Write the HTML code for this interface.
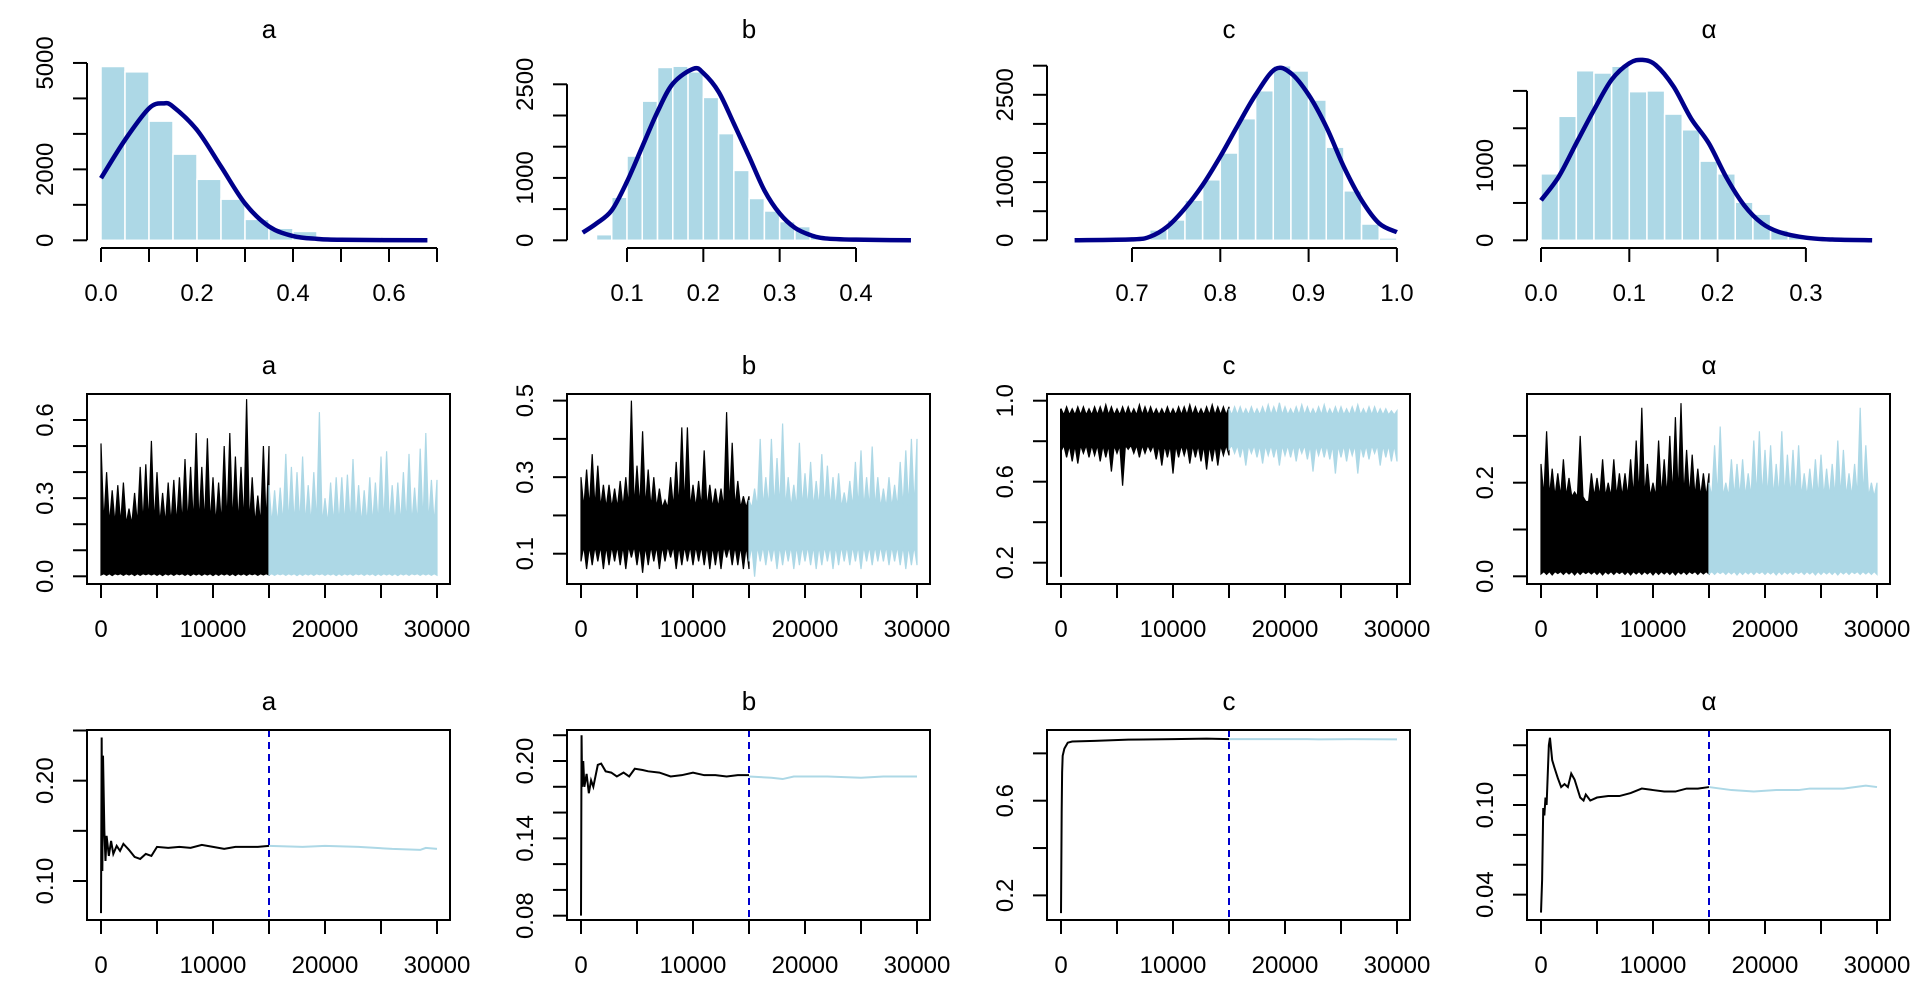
<!DOCTYPE html>
<html><head><meta charset="utf-8"><style>
html,body{margin:0;padding:0;background:#fff;}
svg{display:block;font-family:"Liberation Sans",sans-serif;}
</style></head><body>
<svg id="chart" width="1920" height="1008" viewBox="0 0 1920 1008" xmlns="http://www.w3.org/2000/svg"></svg>
<script>
// ---------- Histogram data ----------
const histA_counts=[4900,4750,3360,2430,1720,1160,590,340,250];
const histA_binStart=0, histA_binW=0.05;
const histB_counts=[90,690,1350,2230,2770,2790,2700,2290,1710,1120,670,470,300,220,80,50];
const histB_binStart=0.06, histB_binW=0.02;
const histC_counts=[60,180,350,690,1040,1500,2090,2570,3000,2910,2410,1600,850,280,40];
const histC_binStart=0.70, histC_binW=0.02;
const histAl_counts=[890,1660,2270,2240,2330,1990,2000,1690,1480,1060,890,510,350,140,60];
const histAl_binStart=0, histAl_binW=0.02;
// density curves
const densA_x=[0,0.05,0.1,0.13,0.15,0.2,0.25,0.3,0.35,0.4,0.45,0.5,0.68];
const densA_y=[1750,2830,3720,3860,3770,3110,2080,1040,390,120,40,15,0];
const densB_x=[0.042,0.06,0.08,0.10,0.12,0.14,0.16,0.187,0.2,0.22,0.24,0.26,0.28,0.30,0.32,0.34,0.36,0.40,0.472];
const densB_y=[123,270,480,940,1500,2060,2510,2750,2680,2380,1870,1340,800,430,200,85,30,10,0];
const densC_x=[0.635,0.70,0.72,0.74,0.76,0.78,0.80,0.82,0.84,0.862,0.88,0.90,0.92,0.94,0.96,0.98,1.0];
const densC_y=[0,15,60,235,550,950,1440,1980,2500,2940,2870,2500,1950,1260,690,290,140];
const densAl_x=[0,0.02,0.04,0.06,0.08,0.10,0.115,0.13,0.15,0.17,0.19,0.21,0.23,0.25,0.27,0.30,0.33,0.375];
const densAl_y=[535,850,1300,1745,2150,2370,2415,2345,2060,1630,1300,840,470,230,110,35,10,0];
// ---------- Trace data (envelope per 500 iterations) ----------
const traceA_hi1=[0.51,0.40,0.33,0.35,0.36,0.26,0.32,0.42,0.43,0.52,0.40,0.32,0.36,0.37,0.38,0.45,0.42,0.55,0.42,0.53,0.38,0.36,0.50,0.55,0.46,0.42,0.68,0.38,0.31,0.50];
const traceA_hi2=[0.35,0.33,0.34,0.47,0.42,0.40,0.46,0.35,0.40,0.63,0.30,0.36,0.38,0.38,0.39,0.45,0.35,0.33,0.38,0.36,0.46,0.48,0.35,0.36,0.40,0.47,0.34,0.49,0.55,0.37];
const traceA_lo1=[0.005,0.004,0.003,0.006,0.004,0.005,0.003,0.004,0.006,0.005,0.004,0.003,0.005,0.004,0.006,0.004,0.003,0.005,0.004,0.005,0.003,0.004,0.005,0.004,0.003,0.005,0.004,0.006,0.004,0.005];
const traceA_lo2=[0.005,0.004,0.006,0.004,0.005,0.003,0.004,0.005,0.004,0.006,0.004,0.005,0.003,0.004,0.005,0.004,0.006,0.004,0.005,0.003,0.004,0.005,0.004,0.003,0.005,0.004,0.006,0.004,0.005,0.004];
const traceB_hi1=[0.30,0.32,0.36,0.33,0.28,0.28,0.27,0.29,0.30,0.50,0.33,0.42,0.32,0.30,0.27,0.24,0.30,0.34,0.43,0.43,0.28,0.29,0.37,0.28,0.27,0.27,0.47,0.39,0.29,0.25];
const traceB_hi2=[0.24,0.27,0.40,0.30,0.40,0.35,0.44,0.30,0.28,0.39,0.31,0.34,0.29,0.36,0.33,0.30,0.31,0.26,0.29,0.34,0.37,0.30,0.38,0.30,0.27,0.30,0.28,0.34,0.37,0.40];
const traceB_lo1=[0.08,0.06,0.07,0.08,0.06,0.07,0.08,0.07,0.06,0.09,0.07,0.05,0.07,0.08,0.06,0.08,0.09,0.06,0.07,0.08,0.07,0.08,0.07,0.06,0.07,0.06,0.09,0.07,0.07,0.06];
const traceB_lo2=[0.08,0.04,0.08,0.07,0.08,0.06,0.07,0.08,0.06,0.07,0.08,0.07,0.06,0.07,0.08,0.06,0.07,0.08,0.07,0.08,0.06,0.08,0.07,0.08,0.08,0.07,0.08,0.07,0.06,0.07];
const traceC_hi1=[0.96,0.97,0.96,0.97,0.97,0.96,0.97,0.97,0.98,0.97,0.96,0.97,0.97,0.96,0.98,0.97,0.97,0.96,0.96,0.97,0.96,0.97,0.97,0.98,0.97,0.96,0.97,0.98,0.97,0.97];
const traceC_hi2=[0.96,0.97,0.97,0.96,0.97,0.96,0.97,0.98,0.97,0.99,0.97,0.96,0.97,0.98,0.97,0.96,0.97,0.98,0.96,0.97,0.97,0.96,0.97,0.98,0.96,0.97,0.97,0.96,0.96,0.95];
const traceC_lo1=[0.75,0.72,0.70,0.69,0.74,0.72,0.73,0.70,0.72,0.65,0.74,0.58,0.76,0.74,0.72,0.74,0.75,0.71,0.68,0.72,0.64,0.72,0.73,0.69,0.72,0.70,0.66,0.70,0.68,0.73];
const traceC_lo2=[0.76,0.74,0.72,0.68,0.74,0.72,0.69,0.73,0.72,0.68,0.73,0.72,0.70,0.74,0.71,0.65,0.73,0.72,0.71,0.64,0.72,0.70,0.73,0.64,0.72,0.71,0.74,0.68,0.72,0.70];
const traceC_start=0.13;
const traceAl_hi1=[0.24,0.31,0.23,0.22,0.25,0.21,0.18,0.30,0.16,0.22,0.21,0.25,0.20,0.25,0.22,0.22,0.25,0.29,0.36,0.24,0.20,0.29,0.25,0.30,0.34,0.37,0.27,0.26,0.23,0.22];
const traceAl_hi2=[0.20,0.28,0.32,0.20,0.25,0.24,0.25,0.22,0.29,0.31,0.27,0.28,0.24,0.31,0.26,0.27,0.28,0.22,0.23,0.25,0.26,0.23,0.24,0.29,0.27,0.22,0.24,0.36,0.28,0.20];
const traceAl_lo1=traceA_lo1;
const traceAl_lo2=traceA_lo2;
// ---------- Running mean data ----------
const runA_it1=[0,60,120,180,300,400,500,700,900,1100,1400,1700,2000,2500,3000,3500,4000,4500,5000,6000,7000,8000,9000,10000,11000,12000,13000,14000,15000];
const runA_v1=[0.068,0.243,0.11,0.225,0.15,0.12,0.145,0.125,0.14,0.127,0.135,0.130,0.137,0.131,0.124,0.122,0.127,0.125,0.134,0.133,0.134,0.133,0.136,0.134,0.132,0.134,0.134,0.134,0.135];
const runA_it2=[15000,18000,20000,23000,26000,28500,29000,30000];
const runA_v2=[0.135,0.134,0.135,0.134,0.132,0.131,0.133,0.132];
const runB_it1=[0,50,100,200,300,500,700,900,1100,1500,1800,2200,2700,3200,3800,4300,4800,5500,6000,7000,8000,9000,10000,11000,12000,13000,14000,15000];
const runB_v1=[0.08,0.22,0.18,0.20,0.18,0.19,0.175,0.185,0.18,0.197,0.198,0.192,0.191,0.188,0.191,0.188,0.194,0.193,0.192,0.191,0.188,0.189,0.191,0.189,0.189,0.188,0.189,0.189];
const runB_it2=[15000,17000,18000,19000,22000,25000,27000,30000];
const runB_v2=[0.188,0.187,0.186,0.188,0.188,0.187,0.188,0.188];
const runC_it1=[0,60,100,150,300,600,1000,3000,6000,10000,13000,15000];
const runC_v1=[0.125,0.55,0.72,0.79,0.82,0.845,0.85,0.853,0.858,0.86,0.862,0.86];
const runC_it2=[15000,22000,23000,26000,30000];
const runC_v2=[0.86,0.86,0.859,0.86,0.859];
const runAl_it1=[0,100,200,300,400,500,700,800,1000,1200,1500,1800,2100,2400,2700,3000,3500,3800,4000,4400,5000,6000,7000,8000,9000,10000,11000,12000,13000,14000,15000];
const runAl_v1=[0.028,0.05,0.098,0.093,0.105,0.10,0.14,0.145,0.13,0.125,0.118,0.112,0.114,0.112,0.121,0.117,0.105,0.103,0.107,0.103,0.105,0.106,0.106,0.108,0.111,0.11,0.109,0.109,0.111,0.111,0.112];
const runAl_it2=[15000,17000,19000,21000,23000,24000,27000,29000,30000];
const runAl_v2=[0.112,0.11,0.109,0.11,0.11,0.111,0.111,0.113,0.112];
// ticks
const titles=["a","b","c","α"];
const iterTicks=[0,5000,10000,15000,20000,25000,30000];
const iterLabels=["0","","10000","","20000","","30000"];

const NS="http://www.w3.org/2000/svg";
const svg=document.getElementById('chart');
function el(tag,attrs,parent){const e=document.createElementNS(NS,tag);for(const k in attrs)e.setAttribute(k,attrs[k]);(parent||svg).appendChild(e);return e;}
function txt(s,x,y,opts,parent){const t=el('text',Object.assign({x:x,y:y,'font-size':24,'text-anchor':'middle',fill:'#000'},opts||{}),parent);t.textContent=s;return t;}

function panelGroup(name,ox,oy){const g=el('g',{transform:`translate(${ox},${oy})`});return g;}
function title(g,s){const t=txt(s,269,38,{'font-size':26},g);}
function yAxis(g,ticks,labels,ymap,drawLine){
  const ax=el('g',{},g);
  if(drawLine) el('line',{x1:87,x2:87,y1:ymap(ticks[0]),y2:ymap(ticks[ticks.length-1]),stroke:'#000','stroke-width':2},ax);
  ticks.forEach((t,i)=>{const y=ymap(t);el('line',{x1:73,x2:87,y1:y,y2:y,stroke:'#000','stroke-width':2},ax);
    if(labels[i]){const l=txt(labels[i],0,0,{transform:`translate(53,${y}) rotate(-90)`},ax);}});
}
function xAxis(g,ticks,labels,xmap,drawLine){
  const ax=el('g',{},g);
  if(drawLine) el('line',{x1:xmap(ticks[0]),x2:xmap(ticks[ticks.length-1]),y1:248,y2:248,stroke:'#000','stroke-width':2},ax);
  ticks.forEach((t,i)=>{const x=xmap(t);el('line',{x1:x,x2:x,y1:248,y2:262,stroke:'#000','stroke-width':2},ax);
    if(labels[i]){const l=txt(labels[i],x,301,{},ax);}});
}
function box(g){const b=el('rect',{x:87,y:58,width:363,height:190,fill:'none',stroke:'#000','stroke-width':2},g);}
function smoothPath(pts){
  let d='M'+pts[0][0]+','+pts[0][1];
  for(let i=0;i<pts.length-1;i++){
    const p0=pts[Math.max(0,i-1)],p1=pts[i],p2=pts[i+1],p3=pts[Math.min(pts.length-1,i+2)];
    const c1=[p1[0]+(p2[0]-p0[0])/6,p1[1]+(p2[1]-p0[1])/6],c2=[p2[0]-(p3[0]-p1[0])/6,p2[1]-(p3[1]-p1[1])/6];
    d+=` C${c1[0]},${c1[1]} ${c2[0]},${c2[1]} ${p2[0]},${p2[1]}`;
  }
  return d;
}
function hist(k,name,counts,b0,bw,dx,dy,xmap,ymap,xt,xl,yt,yl){
  const g=panelGroup('histogram-'+name,480*k,0);title(g,titles[k]);
  counts.forEach((c,i)=>{const x0=xmap(b0+i*bw),x1=xmap(b0+(i+1)*bw);
    const r=el('rect',{x:x0,y:ymap(c),width:x1-x0,height:ymap(0)-ymap(c),fill:'#ADD8E6',stroke:'#fff','stroke-width':1.5},g);
    });
  const p=el('path',{d:smoothPath(dx.map((x,i)=>[xmap(x),ymap(dy[i])])),fill:'none',stroke:'#00008B','stroke-width':4.5,'stroke-linejoin':'round'},g);
  
  yAxis(g,yt,yl,ymap,true);xAxis(g,xt,xl,xmap,true);
}
const itX=it=>101+it/30000*336;
function tracePanel(k,name,hi1,hi2,lo1,lo2,topB,lowB,ymap,yt,yl,start){
  const g=panelGroup('trace-'+name,480*k,336);title(g,titles[k]);
  [[hi1,lo1,'#000',0],[hi2,lo2,'#ADD8E6',15000]].forEach(([hi,lo,col,off])=>{
    const top=[],bot=[];
    hi.forEach((h,i)=>{const it=off+i*500;top.push(itX(it)+','+ymap(h));top.push(itX(it+250)+','+ymap(Math.min(topB,h)));});
    top.push(itX(off+15000)+','+ymap(hi[hi.length-1]));
    bot.push(itX(off+15000)+','+ymap(lo[lo.length-1]));
    for(let i=lo.length-1;i>=0;i--){const it=off+i*500;bot.push(itX(it+250)+','+ymap(Math.max(lowB,lo[i])));bot.push(itX(it)+','+ymap(lo[i]));}
    const p=el('polygon',{points:top.concat(bot).join(' '),fill:col,stroke:col,'stroke-width':1.2,'stroke-linejoin':'miter'},g);
    
  });
  if(start!==undefined){const l=el('line',{x1:itX(0),x2:itX(0),y1:ymap(start),y2:ymap(hi1[0]),stroke:'#000','stroke-width':2},g);}
  box(g);yAxis(g,yt,yl,ymap,false);xAxis(g,iterTicks,iterLabels,itX,false);
}
function runPanel(k,name,it1,v1,it2,v2,ymap,yt,yl){
  const g=panelGroup('running-mean-'+name,480*k,672);title(g,titles[k]);
  const p1=el('polyline',{points:it1.map((t,i)=>itX(t)+','+ymap(v1[i])).join(' '),fill:'none',stroke:'#000','stroke-width':2},g);
  
  const p2=el('polyline',{points:it2.map((t,i)=>itX(t)+','+ymap(v2[i])).join(' '),fill:'none',stroke:'#ADD8E6','stroke-width':2},g);
  
  const d=el('line',{x1:itX(15000),x2:itX(15000),y1:58,y2:248,stroke:'#0000CD','stroke-width':2,'stroke-dasharray':'7,5'},g);
  
  box(g);yAxis(g,yt,yl,ymap,false);xAxis(g,iterTicks,iterLabels,itX,false);
}

// Row 1
hist(0,'a',histA_counts,histA_binStart,histA_binW,densA_x,densA_y,v=>101+v*480,c=>240.3-c*0.03547,
  [0,0.1,0.2,0.3,0.4,0.5,0.6,0.7],["0.0","","0.2","","0.4","","0.6",""],[0,1000,2000,3000,4000,5000],["0","","2000","","","5000"]);
hist(1,'b',histB_counts,histB_binStart,histB_binW,densB_x,densB_y,v=>147+(v-0.1)*763.3,c=>240.3-c*0.0624,
  [0.1,0.2,0.3,0.4],["0.1","0.2","0.3","0.4"],[0,500,1000,1500,2000,2500],["0","","1000","","","2500"]);
hist(2,'c',histC_counts,histC_binStart,histC_binW,densC_x,densC_y,v=>172+(v-0.7)*883,c=>240.3-c*0.0582,
  [0.7,0.8,0.9,1.0],["0.7","0.8","0.9","1.0"],[0,500,1000,1500,2000,2500,3000],["0","","1000","","","2500",""]);
hist(3,'alpha',histAl_counts,histAl_binStart,histAl_binW,densAl_x,densAl_y,v=>101+v*883,c=>240.3-c*0.0747,
  [0,0.1,0.2,0.3],["0.0","0.1","0.2","0.3"],[0,500,1000,1500,2000],["0","","1000","",""]);
// Row 2
tracePanel(0,'a',traceA_hi1,traceA_hi2,traceA_lo1,traceA_lo2,0.2,0.01,v=>240.3-v*260.5,[0,0.1,0.2,0.3,0.4,0.5,0.6],["0.0","","","0.3","","","0.6"]);
tracePanel(1,'b',traceB_hi1,traceB_hi2,traceB_lo1,traceB_lo2,0.22,0.12,v=>217.7-(v-0.1)*382.7,[0.1,0.2,0.3,0.4,0.5],["0.1","","0.3","","0.5"]);
tracePanel(2,'c',traceC_hi1,traceC_hi2,traceC_lo1,traceC_lo2,0.93,0.78,v=>226.7-(v-0.2)*202.5,[0.2,0.4,0.6,0.8,1.0],["0.2","","0.6","","1.0"],traceC_start);
tracePanel(3,'alpha',traceAl_hi1,traceAl_hi2,traceAl_lo1,traceAl_lo2,0.17,0.01,v=>240.3-v*468,[0,0.1,0.2,0.3],["0.0","","0.2",""]);
// Row 3
runPanel(0,'a',runA_it1,runA_v1,runA_it2,runA_v2,v=>209-(v-0.1)*1003.3,[0.10,0.15,0.20,0.25],["0.10","","0.20",""]);
runPanel(1,'b',runB_it1,runB_v1,runB_it2,runB_v2,v=>89-(v-0.2)*1289,[0.08,0.10,0.12,0.14,0.16,0.18,0.20,0.22],["0.08","","","0.14","","","0.20",""]);
runPanel(2,'c',runC_it1,runC_v1,runC_it2,runC_v2,v=>128.7-(v-0.6)*236.7,[0.2,0.4,0.6,0.8],["0.2","","0.6",""]);
runPanel(3,'alpha',runAl_it1,runAl_v1,runAl_it2,runAl_v2,v=>133-(v-0.1)*1494.3,[0.04,0.06,0.08,0.10,0.12,0.14],["0.04","","","0.10","",""]);
</script>
</body></html>
